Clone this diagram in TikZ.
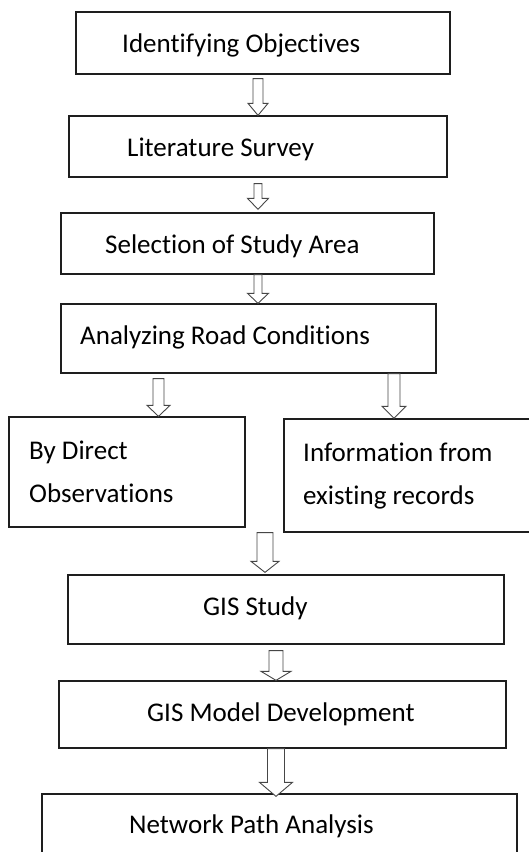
\documentclass[tikz,border=0pt]{standalone}
\usepackage{fontspec}
\setmainfont{Carlito}[Ligatures=NoCommon]
\usepackage{tikz}
\usetikzlibrary{calc}
\definecolor{myline}{RGB}{30,30,30}
\definecolor{myarrow}{RGB}{70,70,70}
\tikzset{
  shaftw/.store in=\fshaft, shaftw=10pt,
  headw/.store in=\fhead, headw=20pt,
  headl/.store in=\flen, headl=12pt,
  box/.style={rectangle, draw=myline, line width=1.3pt, inner sep=0pt},
  txt/.style={inner sep=0pt, anchor=base west, align=left,
    font=\fontsize{27}{43}\selectfont},
  flow/.style={draw=myarrow, fill=white, line width=0.9pt, line join=miter,
    to path={let \p1=(\tikztostart), \p2=(\tikztotarget) in
      (\x1-0.5*\fshaft,\y1) -- (\x1-0.5*\fshaft,\y2+\flen)
      -- (\x1-0.5*\fhead,\y2+\flen) -- (\x1,\y2)
      -- (\x1+0.5*\fhead,\y2+\flen) -- (\x1+0.5*\fshaft,\y2+\flen)
      -- (\x1+0.5*\fshaft,\y1) -- cycle}}
}

\begin{document}
\begin{tikzpicture}[x=1pt, y=-1pt]
  \useasboundingbox (0,0) rectangle (528,852);

  % boxes
  \node[box, minimum width=374, minimum height=62] (b1) at (263,43) {};
  \node[box, minimum width=378, minimum height=61] (b2) at (258,146.5) {};
  \node[box, minimum width=373, minimum height=61] (b3) at (247.5,243.5) {};
  \node[box, minimum width=375, minimum height=69] (b4) at (248.5,338.5) {};
  \node[box, minimum width=236, minimum height=110] (b5) at (127,472) {};
  \node[box, minimum width=261, minimum height=113] (b6) at (414.5,475.5) {};
  \node[box, minimum width=436, minimum height=69] (b7) at (286,609.5) {};
  \node[box, minimum width=447, minimum height=67] (b8) at (282.5,714.5) {};
  \node[box, minimum width=475, minimum height=86] (b9) at (279.5,837) {};

  % texts (base of the last line for two lines)
  \node[txt] (t1) at (122,52) {Identifying Objectives};
  \node[txt] (t2) at (127,156) {Literature Survey};
  \node[txt] (t3) at (105,253) {Selection of Study Area};
  \node[txt] (t4) at (80,344) {Analyzing Road Conditions};
  \node[txt] (t5) at (29,502) {By Direct\\Observations};
  \node[txt] (t6) at (303,504) {Information from\\existing records};
  \node[txt] (t7) at (203,615) {GIS Study};
  \node[txt] (t8) at (147,721) {GIS Model Development};
  \node[txt] (t9) at (129,833) {Network Path Analysis};

  % arrows
  \draw[flow] ($(b1.south -| 258,0)+(0,4)$) to (b2.north -| 258,0);
  \draw[flow, shaftw=8pt, headw=21pt, headl=11pt]
    ($(b2.south -| 258,0)+(0,6)$) to ($(b3.north -| 258,0)+(0,-3)$);
  \draw[flow, shaftw=8pt, headw=21pt, headl=10pt] (b3.south -| 258,0) to (b4.north -| 258,0);
  \draw[flow, shaftw=11pt, headw=23pt, headl=11pt]
    ($(b4.south -| 158.5,0)+(0,5)$) to (b5.north -| 158.5,0);
  \draw[flow, shaftw=12pt, headw=24pt, headl=12pt] (b4.south -| 394,0) to (b6.north -| 394,0);
  \draw[flow, shaftw=16pt, headw=28pt, headl=11pt] (b6.south -| 265,0) to ($(b7.north -| 265,0)+(0,-2)$);
  \draw[flow, shaftw=14pt, headw=30pt, headl=9pt]
    ($(b7.south -| 276,0)+(0,6)$) to (b8.north -| 276,0);
  \draw[flow, shaftw=17pt, headw=33pt, headl=14pt] (b8.south -| 276,0) to ($(b9.north -| 276,0)+(0,3)$);
\end{tikzpicture}
\end{document}
